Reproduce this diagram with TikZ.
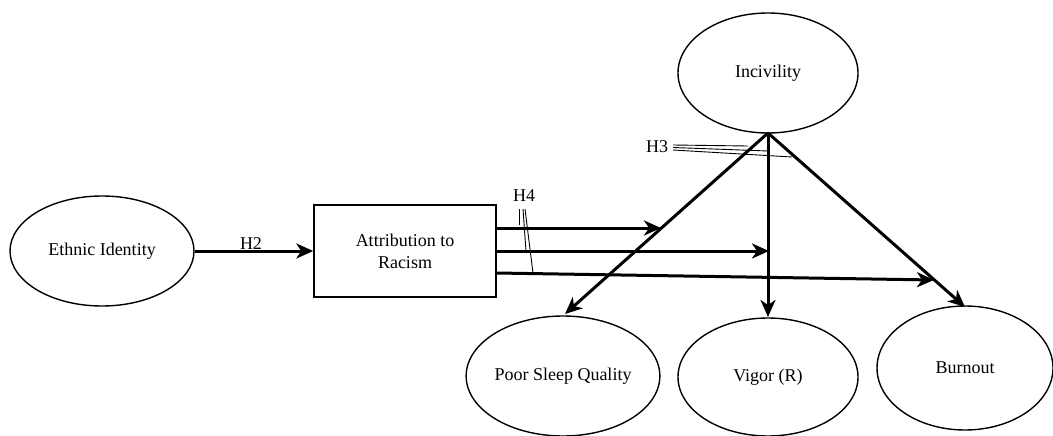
\documentclass[tikz,border=0pt]{standalone}
\usepackage{fontspec}
\setmainfont{Liberation Serif}
\usetikzlibrary{shapes.geometric,arrows.meta,calc}
\begin{document}
\begin{tikzpicture}[x=1pt,y=-1pt,
  every node/.style={font=\fontsize{18}{22}\selectfont},
  construct/.style={ellipse,draw,line width=1.4pt,inner sep=0pt},
  boxnode/.style={rectangle,draw,line width=1.4pt,align=center,inner sep=0pt},
  path/.style={line width=3pt,-{Stealth[length=17pt,width=15pt,inset=5pt]}},
  tag/.style={line width=0.9pt},
  lbl/.style={inner sep=0pt}]
\useasboundingbox (0,0) rectangle (1053,436);
\fill[white] (0,0) rectangle (1053,436);

% constructs
\node[construct,minimum width=184pt,minimum height=110pt] (eth) at (102,251) {Ethnic Identity};
\node[boxnode,minimum width=182pt,minimum height=92pt] (attr) at (405,251) {Attribution to\\Racism};
\node[construct,minimum width=180pt,minimum height=120pt] (inc) at (768,73) {Incivility};
\node[construct,minimum width=184pt,minimum height=120pt] (sleep) at (563,376) {Poor Sleep Quality};
\node[construct,minimum width=180pt,minimum height=118pt] (vig) at (768,377) {Vigor (R)};
\node[construct,minimum width=176pt,minimum height=124pt] (burn) at (965,368) {Burnout};

% end points of the arrows
\coordinate (incB) at (768,133);
\coordinate (sleepT) at (565,314);
\coordinate (vigT) at (768,317);
\coordinate (burnT) at (965,307);
\coordinate (a1) at (496,228);
\coordinate (a2) at (496,251);
\coordinate (a3) at (496,273);
\coordinate (m1) at (661,228);
\coordinate (m2) at (769,251);
\coordinate (m3) at (934,280);

% direct paths
\draw[path] (eth.east) -- (attr.west);
\draw[path] (incB) -- (sleepT);
\draw[path] (incB) -- (vigT);
\draw[path] (incB) -- (burnT);

% moderation paths
\draw[path] (a1) -- (m1);
\draw[path] (a2) -- (m2);
\draw[path] (a3) -- (m3);

% labels
\node[lbl] (h2) at (251,244) {H2};
\node[lbl] (h3) at (657,147) {H3};
\node[lbl] (h4) at (524,196) {H4};

% label leaders
\coordinate (h3a) at (673,145);
\coordinate (h3b) at (673,147.5);
\coordinate (h3c) at (673,150);
\draw[tag] (h3a) -- (748,146);
\draw[tag] (h3b) -- (768,151);
\draw[tag] (h3c) -- (792,157);
\draw[tag] (519.5,209) -- (519.5,225);
\draw[tag] (523,209) -- (526,251);
\draw[tag] (525,209) -- (533,273);
\end{tikzpicture}
\end{document}
